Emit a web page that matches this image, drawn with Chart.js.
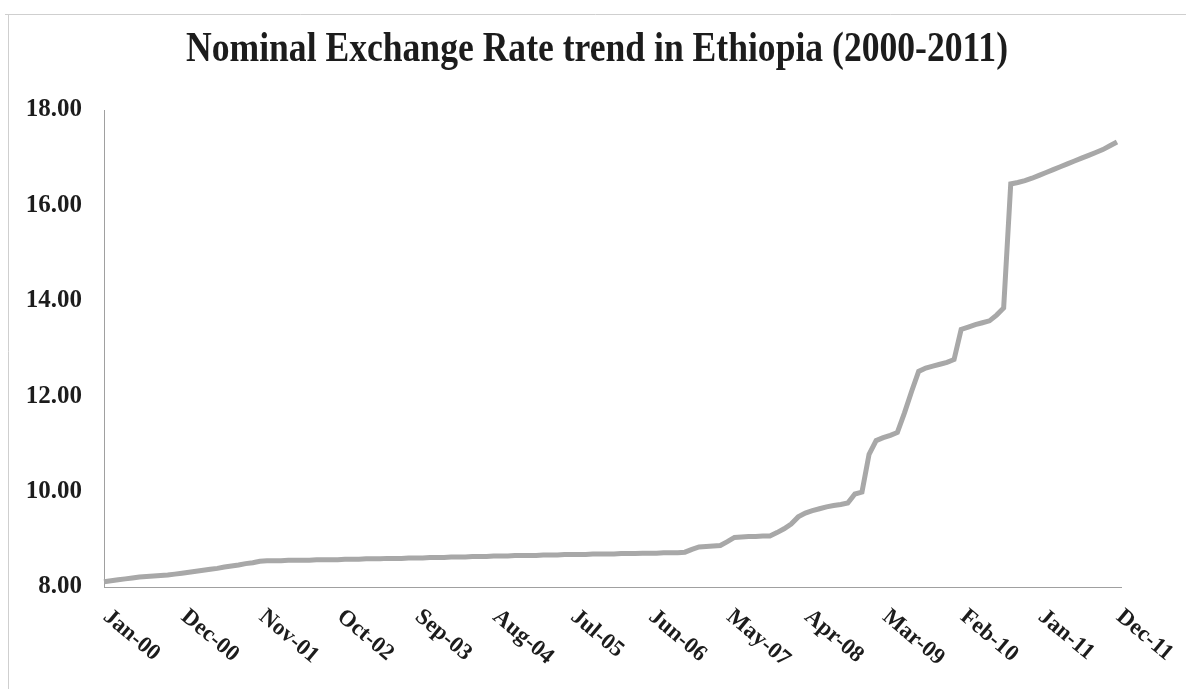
<!DOCTYPE html>
<html>
<head>
<meta charset="utf-8">
<script src="https://cdn.jsdelivr.net/npm/chart.js@4.4.1/dist/chart.umd.min.js"></script>
<style>
  html, body { margin: 0; padding: 0; background: #ffffff; }
  #wrap { width: 1192px; height: 689px; position: relative; }
</style>
</head>
<body>
<div id="wrap"><canvas id="c" width="1192" height="689"></canvas></div>
<script>
// Birr per US dollar, monthly averages
const TITLE = 'Nominal Exchange Rate trend in Ethiopia (2000-2011)';
const MONTHS = ['Jan','Feb','Mar','Apr','May','Jun','Jul','Aug','Sep','Oct','Nov','Dec'];
const YEARS = ['00','01','02','03','04','05','06','07','08','09','10','11'];

const rate2000 = [8.11, 8.13, 8.15, 8.17, 8.19, 8.21, 8.22, 8.23, 8.24, 8.25, 8.27, 8.29];
const rate2001 = [8.31, 8.33, 8.35, 8.37, 8.39, 8.42, 8.44, 8.46, 8.49, 8.51, 8.54, 8.55];
const rate2002 = [8.55, 8.55, 8.56, 8.56, 8.56, 8.56, 8.57, 8.57, 8.57, 8.57, 8.58, 8.58];
const rate2003 = [8.58, 8.59, 8.59, 8.59, 8.60, 8.60, 8.60, 8.61, 8.61, 8.61, 8.62, 8.62];
const rate2004 = [8.62, 8.63, 8.63, 8.63, 8.64, 8.64, 8.64, 8.65, 8.65, 8.65, 8.66, 8.66];
const rate2005 = [8.66, 8.66, 8.67, 8.67, 8.67, 8.68, 8.68, 8.68, 8.68, 8.69, 8.69, 8.69];
const rate2006 = [8.69, 8.70, 8.70, 8.70, 8.71, 8.71, 8.71, 8.72, 8.72, 8.72, 8.73, 8.79];
const rate2007 = [8.84, 8.85, 8.86, 8.87, 8.95, 9.04, 9.05, 9.06, 9.06, 9.07, 9.07, 9.14];
const rate2008 = [9.22, 9.32, 9.47, 9.55, 9.60, 9.64, 9.68, 9.71, 9.73, 9.76, 9.95, 9.99];
const rate2009 = [10.78, 11.07, 11.13, 11.18, 11.24, 11.65, 12.10, 12.52, 12.59, 12.63, 12.67, 12.71];
const rate2010 = [12.77, 13.40, 13.45, 13.50, 13.54, 13.58, 13.70, 13.85, 16.45, 16.48, 16.52, 16.57];
const rate2011 = [16.63, 16.69, 16.75, 16.81, 16.87, 16.93, 16.99, 17.05, 17.11, 17.17, 17.25, 17.33];

const tickLabels = ['Jan-00','Dec-00','Nov-01','Oct-02','Sep-03','Aug-04','Jul-05',
                    'Jun-06','May-07','Apr-08','Mar-09','Feb-10','Jan-11','Dec-11'];
const yMin = 8, yMax = 18, yStep = 2;

const categories = [];
YEARS.forEach(y => MONTHS.forEach(m => categories.push(m + '-' + y)));
const rates = [].concat(rate2000, rate2001, rate2002, rate2003, rate2004, rate2005,
                        rate2006, rate2007, rate2008, rate2009, rate2010, rate2011);

const SERIF = '"Liberation Serif", "Times New Roman", serif';
const INK = '#1c1c1c';
const AXIS = '#a0a0a0';

// page frame, title and slanted month labels
const decor = {
  id: 'decor',
  beforeDraw(chart) {
    const ctx = chart.ctx;
    ctx.save();
    ctx.fillStyle = '#ffffff';
    ctx.fillRect(0, 0, chart.width, chart.height);
    ctx.strokeStyle = '#cfcfcf';
    ctx.lineWidth = 1;
    ctx.beginPath();
    ctx.moveTo(8.5, 14); ctx.lineTo(8.5, chart.height);
    ctx.moveTo(5, 14.5); ctx.lineTo(1186, 14.5);
    ctx.stroke();
    ctx.restore();
  },
  afterDraw(chart) {
    const ctx = chart.ctx;
    const xs = chart.scales.x;
    const area = chart.chartArea;

    // axis line runs a little past the last month
    ctx.save();
    ctx.strokeStyle = AXIS;
    ctx.lineWidth = 1;
    ctx.beginPath();
    ctx.moveTo(area.right, area.bottom + 0.5);
    ctx.lineTo(area.right + 5, area.bottom + 0.5);
    ctx.stroke();
    ctx.restore();

    // title, set in a tall, narrow bold serif
    ctx.save();
    ctx.font = 'bold 42px ' + SERIF;
    ctx.fillStyle = INK;
    ctx.textAlign = 'center';
    ctx.textBaseline = 'alphabetic';
    const w = ctx.measureText(TITLE).width;
    const target = 822;
    ctx.translate(597, 61);
    ctx.scale(target / w, 1);
    ctx.fillText(TITLE, 0, 0);
    ctx.restore();

    // month labels, slanted downwards to the right
    ctx.save();
    ctx.font = 'bold 23px ' + SERIF;
    ctx.fillStyle = INK;
    ctx.textAlign = 'left';
    ctx.textBaseline = 'middle';
    tickLabels.forEach(lbl => {
      const idx = categories.indexOf(lbl);
      const x = xs.getPixelForValue(idx);
      ctx.save();
      ctx.translate(x + 2, area.bottom + 27);
      ctx.rotate(40 * Math.PI / 180);
      ctx.fillText(lbl, 0, 0);
      ctx.restore();
    });
    ctx.restore();
  }
};

new Chart(document.getElementById('c'), {
  type: 'line',
  data: {
    labels: categories,
    datasets: [{
      label: 'Nominal exchange rate',
      data: rates,
      borderColor: '#a8a8a8',
      borderWidth: 5,
      pointRadius: 0,
      tension: 0,
      fill: false
    }]
  },
  options: {
    responsive: false,
    animation: false,
    devicePixelRatio: 1,
    layout: { padding: { top: 110, right: 75, bottom: 0, left: 0 } },
    plugins: {
      legend: { display: false },
      title: { display: false },
      tooltip: { enabled: false }
    },
    scales: {
      x: {
        type: 'category',
        offset: false,
        grid: { display: false, drawTicks: false },
        border: { display: true, color: AXIS, width: 1 },
        ticks: { display: false },
        afterFit(s) { s.height = 102; }
      },
      y: {
        min: yMin,
        max: yMax,
        grid: { display: false, drawTicks: false },
        border: { display: true, color: AXIS, width: 1 },
        ticks: {
          stepSize: yStep,
          padding: 22,
          color: INK,
          font: { family: SERIF, size: 25, weight: 'bold' },
          callback: v => Number(v).toFixed(2)
        },
        afterFit(s) { s.width = 104; }
      }
    }
  },
  plugins: [decor]
});
</script>
</body>
</html>
